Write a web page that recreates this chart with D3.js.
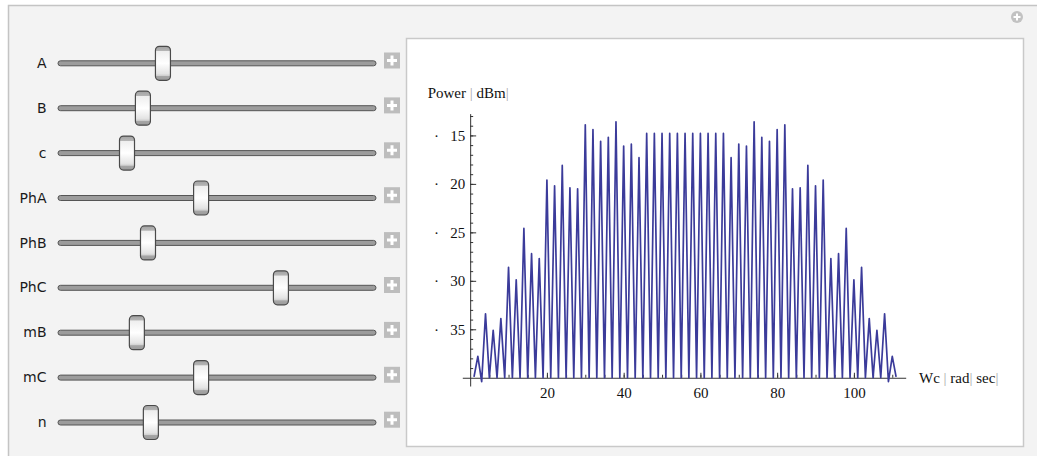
<!DOCTYPE html>
<html>
<head>
<meta charset="utf-8">
<script src="https://cdn.jsdelivr.net/npm/d3@7"></script>
<style>
  body { margin: 0; background: #fff; }
  svg { display: block; }
  .slider-label { font-family: "DejaVu Sans", sans-serif; font-size: 14px; fill: #1a1a1a; }
  .plot text { font-family: "Liberation Serif", serif; font-size: 15px; fill: #111; }
</style>
</head>
<body>
<svg id="chart" width="1037" height="456"></svg>
<script>
// Manipulate controls, position of each thumb along its track (0..1)
var sliderNames = ["A", "B", "c", "PhA", "PhB", "PhC", "mB", "mC", "n"];
var sliderValues = [0.330, 0.267, 0.217, 0.450, 0.283, 0.701, 0.248, 0.450, 0.292];

// spectrum: Wc (rad/sec) vs Power (dBm)
var wc = [1, 2, 3, 4, 5, 6, 7, 8, 9, 10, 11, 12, 13, 14, 15, 16, 17, 18, 19, 20,
  21, 22, 23, 24, 25, 26, 27, 28, 29, 30, 31, 32, 33, 34, 35, 36, 37, 38, 39, 40,
  41, 42, 43, 44, 45, 46, 47, 48, 49, 50, 51, 52, 53, 54, 55, 56, 57, 58, 59, 60,
  61, 62, 63, 64, 65, 66, 67, 68, 69, 70, 71, 72, 73, 74, 75, 76, 77, 78, 79, 80,
  81, 82, 83, 84, 85, 86, 87, 88, 89, 90, 91, 92, 93, 94, 95, 96, 97, 98, 99, 100,
  101, 102, 103, 104, 105, 106, 107, 108, 109, 110, 111];
var power = [-39.9, -37.8, -40.4, -33.4, -40, -35.1, -40, -33.9, -40, -28.6,
  -40, -29.9, -40, -24.6, -40, -27.2, -40, -27.7, -40, -19.6,
  -40, -20.2, -40, -18.1, -40, -20.4, -40, -20.5, -40, -13.9,
  -40, -14.4, -40, -15.6, -40, -15.2, -40, -13.6, -40, -16.1,
  -40, -15.9, -40, -17.3, -40, -14.8, -40, -14.8, -40, -14.8,
  -40, -14.8, -40, -14.8, -40, -14.8, -40, -14.8, -40, -14.8,
  -40, -14.8, -40, -14.8, -40, -14.8, -40, -17.3, -40, -15.9,
  -40, -16.1, -40, -13.6, -40, -15.2, -40, -15.6, -40, -14.4,
  -40, -13.9, -40, -20.5, -40, -20.4, -40, -18.1, -40, -20.2,
  -40, -19.6, -40, -27.7, -40, -27.2, -40, -24.6, -40, -29.9,
  -40, -28.6, -40, -33.9, -40, -35.1, -40, -33.4, -40.4, -37.8, -39.9];

var yMajorTicks = [-15, -20, -25, -30, -35];
var xMajorTicks = [20, 40, 60, 80, 100];

var svg = d3.select("#chart");

// outer panel
svg.append("rect")
  .attr("x", 8.5).attr("y", 5.5)
  .attr("width", 1040).attr("height", 460)
  .attr("fill", "#f3f3f3")
  .attr("stroke", "#c4c4c4")
  .attr("stroke-width", 1.5);

// little (+) icon top right
svg.append("circle").attr("cx", 1017).attr("cy", 17).attr("r", 6).attr("fill", "#c2c2c2");
svg.append("path").attr("d", "M1013.5,17H1020.5M1017,13.5V20.5")
  .attr("stroke", "#fff").attr("stroke-width", 2);

// white output pane
svg.append("rect")
  .attr("x", 406.5).attr("y", 38.5)
  .attr("width", 617).attr("height", 408)
  .attr("fill", "#fff")
  .attr("stroke", "#c9c9c9")
  .attr("stroke-width", 1.5);

// thumb gradient
var grad = svg.append("defs").append("linearGradient")
  .attr("id", "thumbGrad").attr("x1", 0).attr("y1", 0).attr("x2", 0).attr("y2", 1);
[["0%", "#a2a2a2"], ["13%", "#b4b4b4"], ["15%", "#eeeeee"], ["50%", "#ffffff"],
 ["80%", "#e4e4e4"], ["86%", "#d0d0d0"], ["88%", "#a6a6a6"], ["100%", "#9a9a9a"]]
  .forEach(function (s) { grad.append("stop").attr("offset", s[0]).attr("stop-color", s[1]); });

// sliders
var rowY = d3.scalePoint().domain(sliderNames).range([63.3, 422.5]);
var trackX = d3.scaleLinear().domain([0, 1]).range([58, 376]);

var rows = svg.append("g").selectAll("g")
  .data(sliderNames)
  .join("g")
  .attr("transform", function (d) { return "translate(0," + rowY(d) + ")"; });

rows.append("text")
  .attr("class", "slider-label")
  .attr("x", 46.5).attr("y", 4.6)
  .attr("text-anchor", "end")
  .text(function (d) { return d; });

rows.append("rect")
  .attr("x", trackX(0)).attr("y", -2.5)
  .attr("width", trackX(1) - trackX(0)).attr("height", 5)
  .attr("rx", 2.5)
  .attr("fill", "#9c9c9c")
  .attr("stroke", "#555")
  .attr("stroke-width", 1);

rows.append("rect")
  .attr("x", 384).attr("y", -10.8)
  .attr("width", 16).attr("height", 16)
  .attr("fill", "#bdbdbd");
rows.append("path")
  .attr("d", "M387,-2.8H397M392,-7.8V2.2")
  .attr("stroke", "#fff").attr("stroke-width", 3);

rows.append("rect")
  .attr("x", function (d, i) { return trackX(sliderValues[i]) - 7.5; })
  .attr("y", -17)
  .attr("width", 15).attr("height", 34)
  .attr("rx", 4)
  .attr("fill", "url(#thumbGrad)")
  .attr("stroke", "#4a4a4a")
  .attr("stroke-width", 1.2);

// plot
var x = d3.scaleLinear().domain([-2.05, 113.5]).range([462.3, 905.7]);
var y = d3.scaleLinear().domain([-40.85, -12.75]).range([386, 113.6]);

var plot = svg.append("g").attr("class", "plot");

// y axis: minor ticks every unit, major every 5
plot.append("g")
  .attr("transform", "translate(" + x(0) + ",0)")
  .attr("color", "#333")
  .call(d3.axisLeft(y).tickValues(d3.range(-39, -12, 1)).tickSizeInner(-3).tickSizeOuter(0).tickFormat(""));
plot.append("g")
  .attr("transform", "translate(" + x(0) + ",0)")
  .attr("color", "#333")
  .call(d3.axisLeft(y).tickValues(yMajorTicks).tickSizeInner(-6).tickSizeOuter(0).tickPadding(5)
    .tickFormat(function (d) { return "\u00b7\u2002\u2005" + Math.abs(d); }))
  .call(function (g) { g.select(".domain").remove(); });

// x axis: minor every 5, major every 20
plot.append("g")
  .attr("transform", "translate(0," + y(-40) + ")")
  .attr("color", "#333")
  .call(d3.axisBottom(x).tickValues(d3.range(5, 115, 5)).tickSizeInner(-3).tickSizeOuter(0).tickFormat(""));
plot.append("g")
  .attr("transform", "translate(0," + y(-40) + ")")
  .attr("color", "#333")
  .call(d3.axisBottom(x).tickValues(xMajorTicks).tickSizeInner(-5).tickSizeOuter(0).tickPadding(10))
  .call(function (g) { g.select(".domain").remove(); });

// spectrum line
var line = d3.line()
  .x(function (d, i) { return x(wc[i]); })
  .y(function (d) { return y(d); });

plot.append("path")
  .datum(power)
  .attr("d", line)
  .attr("fill", "none")
  .attr("stroke", "#3b3b9a")
  .attr("stroke-width", 1.7)
  .attr("stroke-linejoin", "round");

// axis labels
var yLab = plot.append("text").attr("x", 427.7).attr("y", 97.7);
yLab.append("tspan").text("Power ");
yLab.append("tspan").attr("fill", "#aaa").text("|");
yLab.append("tspan").text(" dBm");
yLab.append("tspan").attr("fill", "#aaa").text("|");

var xLab = plot.append("text").attr("x", 919).attr("y", 383);
xLab.append("tspan").text("Wc ");
xLab.append("tspan").attr("fill", "#aaa").text("|");
xLab.append("tspan").text(" rad");
xLab.append("tspan").attr("fill", "#aaa").text("|");
xLab.append("tspan").text(" sec");
xLab.append("tspan").attr("fill", "#aaa").text("|");
</script>
</body>
</html>
